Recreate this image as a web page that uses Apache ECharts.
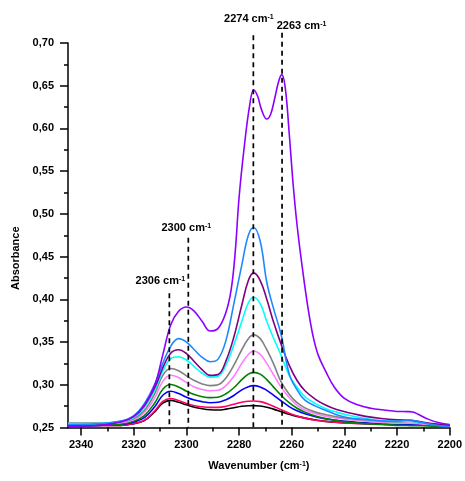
<!DOCTYPE html>
<html><head><meta charset="utf-8">
<script src="https://cdn.jsdelivr.net/npm/echarts@6/dist/echarts.min.js"></script>
<style>html,body{margin:0;padding:0;background:#fff}#c{width:465px;height:481px}</style>
</head><body><div id="c"></div>
<script>
// ---------------- DATA ----------------
const WAVENUMBERS = [2345, 2335, 2325, 2320, 2316, 2312, 2309, 2306, 2303, 2300, 2297, 2294, 2291, 2288, 2285, 2282, 2279, 2276.5, 2274.5, 2272, 2269.5, 2267, 2264, 2261, 2258, 2255, 2251, 2247, 2243, 2238, 2232, 2226, 2220, 2215, 2210, 2205, 2200];

const ABS_AZURE = [0.2535, 0.254, 0.2575, 0.264, 0.278, 0.301, 0.325, 0.345, 0.354, 0.350, 0.341, 0.332, 0.327, 0.330, 0.352, 0.395, 0.440, 0.475, 0.484, 0.468, 0.420, 0.390, 0.358, 0.313, 0.294, 0.282, 0.275, 0.270, 0.265, 0.2612, 0.2595, 0.2578, 0.2575, 0.2588, 0.2555, 0.2525, 0.251];
const ABS_DARKPURPLE = [0.253, 0.2535, 0.257, 0.263, 0.2755, 0.297, 0.320, 0.337, 0.341, 0.3365, 0.327, 0.3175, 0.311, 0.312, 0.328, 0.356, 0.393, 0.422, 0.431, 0.422, 0.400, 0.374, 0.347, 0.323, 0.305, 0.293, 0.283, 0.276, 0.271, 0.267, 0.263, 0.2605, 0.259, 0.2585, 0.256, 0.254, 0.2525];
const ABS_CYAN = [0.2545, 0.2545, 0.257, 0.262, 0.2735, 0.294, 0.316, 0.3305, 0.3328, 0.329, 0.321, 0.3135, 0.309, 0.310, 0.323, 0.347, 0.374, 0.396, 0.4025, 0.395, 0.374, 0.355, 0.334, 0.311, 0.297, 0.286, 0.278, 0.272, 0.268, 0.264, 0.2605, 0.258, 0.257, 0.2575, 0.255, 0.2535, 0.2525];
const ABS_GRAY = [0.2552, 0.2552, 0.2565, 0.2605, 0.270, 0.290, 0.311, 0.319, 0.3165, 0.3105, 0.305, 0.301, 0.299, 0.300, 0.308, 0.323, 0.341, 0.354, 0.3585, 0.354, 0.341, 0.325, 0.303, 0.289, 0.279, 0.273, 0.268, 0.265, 0.2625, 0.2605, 0.259, 0.2575, 0.2565, 0.257, 0.255, 0.2535, 0.2525];
const ABS_PINK = [0.2545, 0.2545, 0.2555, 0.259, 0.2675, 0.285, 0.304, 0.3112, 0.3085, 0.3025, 0.2975, 0.2945, 0.293, 0.2935, 0.299, 0.310, 0.325, 0.3355, 0.3395, 0.3355, 0.325, 0.312, 0.297, 0.285, 0.276, 0.2705, 0.266, 0.263, 0.261, 0.259, 0.2575, 0.256, 0.255, 0.255, 0.254, 0.253, 0.252];
const ABS_GREEN = [0.252, 0.2525, 0.254, 0.2575, 0.264, 0.279, 0.2948, 0.3003, 0.2975, 0.2925, 0.2885, 0.286, 0.285, 0.2855, 0.2895, 0.2965, 0.306, 0.3125, 0.3145, 0.3125, 0.306, 0.2975, 0.2875, 0.279, 0.2725, 0.268, 0.2635, 0.2605, 0.258, 0.256, 0.2545, 0.2535, 0.2525, 0.2522, 0.252, 0.2515, 0.251];
const ABS_BLUE = [0.252, 0.2525, 0.2535, 0.2565, 0.2615, 0.2745, 0.2878, 0.2925, 0.2898, 0.2855, 0.2822, 0.2802, 0.279, 0.2795, 0.2825, 0.2875, 0.294, 0.2978, 0.299, 0.2975, 0.2935, 0.288, 0.281, 0.2745, 0.2695, 0.266, 0.2625, 0.260, 0.2585, 0.257, 0.2555, 0.2545, 0.254, 0.254, 0.253, 0.252, 0.251];
const ABS_RED = [0.252, 0.2525, 0.2525, 0.2548, 0.2585, 0.2695, 0.2805, 0.284, 0.2815, 0.278, 0.2755, 0.2742, 0.2735, 0.2735, 0.2748, 0.2772, 0.2795, 0.2808, 0.281, 0.2803, 0.278, 0.275, 0.2708, 0.2668, 0.2635, 0.261, 0.2585, 0.257, 0.256, 0.255, 0.2545, 0.254, 0.2535, 0.2535, 0.253, 0.2522, 0.2515];
const ABS_BLACK = [0.252, 0.2525, 0.2525, 0.2545, 0.258, 0.2685, 0.2785, 0.2818, 0.2795, 0.2765, 0.2738, 0.272, 0.2708, 0.2705, 0.2715, 0.2732, 0.2748, 0.2755, 0.2756, 0.2752, 0.2738, 0.2715, 0.2685, 0.2655, 0.263, 0.261, 0.2588, 0.2572, 0.2562, 0.2553, 0.2545, 0.254, 0.2535, 0.2532, 0.2528, 0.252, 0.2515];

const WAVENUMBERS_VIOLET = [2345, 2335, 2325, 2320, 2316, 2312, 2309, 2306, 2303, 2300, 2297, 2294, 2291, 2288, 2285, 2283, 2281.5, 2280, 2278, 2276, 2274.5, 2273, 2271.5, 2269.5, 2268, 2266.5, 2265, 2263.8, 2262.5, 2261, 2259.5, 2258, 2256, 2254, 2252, 2250, 2247, 2244, 2240, 2235, 2230, 2225, 2220, 2216, 2214, 2212, 2208, 2204, 2200];
const ABS_VIOLET = [0.2515, 0.252, 0.2565, 0.263, 0.276, 0.300, 0.335, 0.370, 0.386, 0.391, 0.386, 0.374, 0.363, 0.366, 0.385, 0.412, 0.455, 0.520, 0.580, 0.627, 0.645, 0.638, 0.622, 0.611, 0.617, 0.635, 0.655, 0.663, 0.648, 0.595, 0.535, 0.487, 0.437, 0.393, 0.358, 0.335, 0.315, 0.298, 0.284, 0.2765, 0.2725, 0.2705, 0.2688, 0.2686, 0.2682, 0.2655, 0.2595, 0.2555, 0.2535];

const X_MAJOR_TICKS = [2340, 2320, 2300, 2280, 2260, 2240, 2220, 2200];
const X_MINOR_TICKS = [2330, 2310, 2290, 2270, 2250, 2230, 2210];
const Y_MIN = 0.25, Y_MAX = 0.70, Y_STEP = 0.05;

const PEAK_POSITIONS = [2306.5, 2299.3, 2274.6, 2263.7];
const PEAK_LABELS = ['2306', '2300', '2274', '2263'];
const PEAK_LINE_TOPS = [0.407, 0.472, 0.709, 0.712];

// ---------------- STYLE ----------------
const FONT = 'Liberation Sans';
const PEAK_LABEL_OFFSETS = [[-9, -12], [-2, -10], [-4.5, -16], [19.5, -7]];
const COLORS = {
  violet: '#8B00FF', azure: '#1E88FF', darkpurple: '#800080', cyan: '#00FFFF',
  gray: '#808080', pink: '#FF80FF', green: '#008000', blue: '#0000FF',
  red: '#FF0066', black: '#000000'
};

function lineSeries(name, xs, ys, color) {
  return {
    type: 'line', name: name,
    data: xs.map((x, i) => [x, ys[i]]),
    smooth: 0.4, showSymbol: false, symbol: 'none',
    lineStyle: { color: color, width: 1.6 }, itemStyle: { color: color },
    z: 2
  };
}

const chart = echarts.init(document.getElementById('c'), null, { renderer: 'canvas' });

const axisColor = '#000';
const labelStyle = { color: '#000', fontWeight: 'bold', fontSize: 11, fontFamily: FONT };

function renderPeak(params, api) {
  const i = params.dataIndex;
  const x = api.value(0), top = api.value(1);
  const p0 = api.coord([x, top]);
  const p1 = api.coord([x, Y_MIN]);
  const off = PEAK_LABEL_OFFSETS[i];
  return {
    type: 'group',
    children: [
      { type: 'line', shape: { x1: p0[0], y1: p0[1], x2: p1[0], y2: p1[1] },
        style: { stroke: '#000', lineWidth: 1.7, lineDash: [5, 4] } },
      { type: 'text', x: p0[0] + off[0], y: p0[1] + off[1],
        style: {
          text: '{n|' + PEAK_LABELS[i] + ' cm}{s|-1}',
          align: 'center', verticalAlign: 'middle',
          rich: {
            n: { fontSize: 11, fontWeight: 'bold', fontFamily: FONT, fill: '#000' },
            s: { fontSize: 7, fontWeight: 'bold', fontFamily: FONT, fill: '#000', verticalAlign: 'top' }
          }
        } }
    ]
  };
}

chart.setOption({
  animation: false,
  backgroundColor: '#fff',
  grid: { left: 68, right: 11, top: 43, bottom: 53.5, containLabel: false },
  xAxis: [
    {
      type: 'value', min: 2200, max: 2345, inverse: true, position: 'bottom',
      name: '{n|Wavenumber (cm}{s|-1}{n|)}', nameLocation: 'middle', nameGap: 33,
      nameTextStyle: {
        rich: {
          n: { fontSize: 11, fontWeight: 'bold', fontFamily: FONT, color: '#000' },
          s: { fontSize: 7, fontWeight: 'bold', fontFamily: FONT, color: '#000', verticalAlign: 'top' }
        }
      },
      axisLine: { show: true, onZero: false, lineStyle: { color: axisColor, width: 1.5 } },
      axisTick: { show: true, inside: false, length: 8, customValues: X_MAJOR_TICKS, lineStyle: { color: axisColor, width: 1.5 } },
      axisLabel: Object.assign({ customValues: X_MAJOR_TICKS, margin: 12, formatter: v => String(Math.round(v)) }, labelStyle),
      splitLine: { show: false }
    },
    {
      type: 'value', min: 2200, max: 2345, inverse: true, position: 'bottom',
      axisLine: { show: false },
      axisTick: { show: true, inside: false, length: 4, customValues: X_MINOR_TICKS, lineStyle: { color: axisColor, width: 1.5 } },
      axisLabel: { show: false },
      splitLine: { show: false }
    }
  ],
  yAxis: {
    type: 'value', min: Y_MIN, max: Y_MAX, interval: Y_STEP,
    name: 'Absorbance', nameLocation: 'middle', nameGap: 46,
    nameTextStyle: { fontSize: 11, fontWeight: 'bold', fontFamily: FONT, color: '#000', padding: [0, 46, 0, 0] },
    axisLine: { show: true, onZero: false, lineStyle: { color: axisColor, width: 1.5 } },
    axisTick: { show: true, inside: false, length: 8, lineStyle: { color: axisColor, width: 1.5 } },
    minorTick: { show: true, splitNumber: 2, length: 4, lineStyle: { color: axisColor, width: 1.5 } },
    axisLabel: Object.assign({ margin: 14, formatter: v => v.toFixed(2).replace('.', ',') }, labelStyle),
    splitLine: { show: false }, minorSplitLine: { show: false }
  },
  series: [
    lineSeries('black', WAVENUMBERS, ABS_BLACK, COLORS.black),
    lineSeries('red', WAVENUMBERS, ABS_RED, COLORS.red),
    lineSeries('blue', WAVENUMBERS, ABS_BLUE, COLORS.blue),
    lineSeries('green', WAVENUMBERS, ABS_GREEN, COLORS.green),
    lineSeries('pink', WAVENUMBERS, ABS_PINK, COLORS.pink),
    lineSeries('gray', WAVENUMBERS, ABS_GRAY, COLORS.gray),
    lineSeries('cyan', WAVENUMBERS, ABS_CYAN, COLORS.cyan),
    lineSeries('darkpurple', WAVENUMBERS, ABS_DARKPURPLE, COLORS.darkpurple),
    lineSeries('azure', WAVENUMBERS, ABS_AZURE, COLORS.azure),
    lineSeries('violet', WAVENUMBERS_VIOLET, ABS_VIOLET, COLORS.violet),
    {
      type: 'custom', name: 'peaks', clip: false, z: 5,
      renderItem: renderPeak,
      data: PEAK_POSITIONS.map((x, i) => [x, PEAK_LINE_TOPS[i]])
    }
  ]
});
</script>
</body></html>
